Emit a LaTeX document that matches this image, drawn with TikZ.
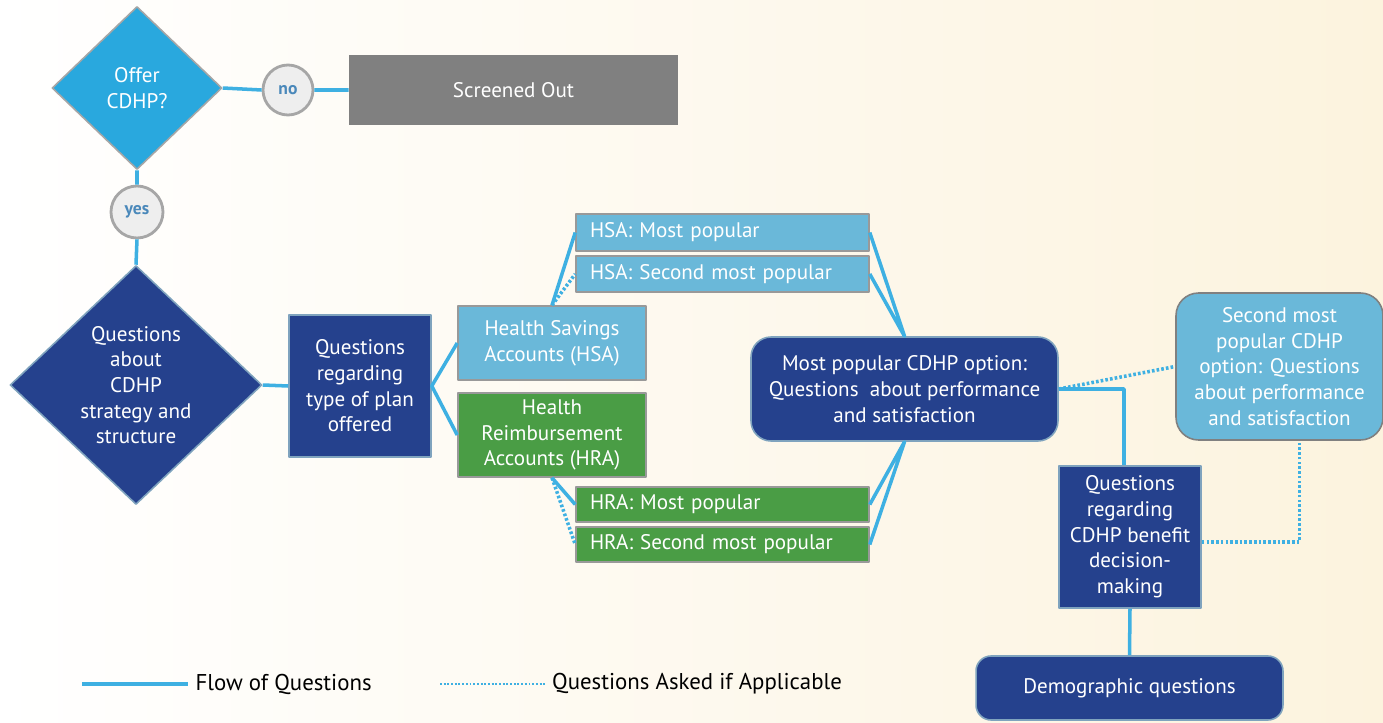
\documentclass[tikz,border=0pt]{standalone}
\usepackage{fontspec}
\setmainfont{PT Sans}
\usetikzlibrary{shapes.geometric}
\definecolor{lineblue}{RGB}{62,176,226}
\definecolor{offerblue}{RGB}{41,168,222}
\definecolor{navy}{RGB}{37,65,141}
\definecolor{skyblue}{RGB}{106,184,217}
\definecolor{leafgreen}{RGB}{74,157,69}
\definecolor{cream}{RGB}{252,243,222}
\definecolor{navyedge}{RGB}{127,163,190}
\definecolor{yesno}{RGB}{74,136,186}
\begin{document}
\begin{tikzpicture}[x=0.02cm,y=-0.02cm,line join=round,font=\fontsize{12}{14.6}\selectfont,
    flow/.style={draw=lineblue,line width=2pt},
    ifapp/.style={draw=lineblue,line width=2pt,dash pattern=on 1.5pt off 1.2pt},
    navybox/.style={draw=navyedge,line width=0.9pt,fill=navy,text=white,align=center,inner sep=2pt},
    skybox/.style={draw=gray!80,line width=0.9pt,fill=skyblue,text=white,align=center,inner sep=2pt},
    greenbox/.style={draw=gray!80,line width=0.9pt,fill=leafgreen,text=white,align=center,inner sep=2pt},
    pick/.style={line width=0.9pt,text=white,align=left,text width=5.3cm,inner xsep=0.28cm,inner ysep=0pt,minimum height=#1},
    answer/.style={circle,draw=gray!70,line width=1.6pt,fill=gray!13,text=yesno,font=\fontsize{10}{12}\selectfont\bfseries,inner sep=0pt}]
    % background
    \shade[left color=white,right color=cream] (0,0) rectangle (1383,723);
    \useasboundingbox (0,0) rectangle (1383,723);
    % screening
    \node[diamond,aspect=1,draw=gray!70,line width=0.9pt,fill=offerblue,text=white,align=center,inner sep=0pt,minimum width=3.4cm,minimum height=3.26cm] (offer) at (137,88) {Offer\\CDHP?};
    \node[answer,minimum size=1cm] (no) at (288,90) {no};
    \node[fill=gray,text=white,minimum width=6.58cm,minimum height=1.4cm] (screened) at (513.5,90) {Screened Out};
    \node[answer,minimum size=1.04cm] (yes) at (137,212) {yes};
    % strategy and type of plan
    \node[diamond,aspect=1,navybox,inner sep=0pt,minimum width=5.04cm,minimum height=4.78cm] (strategy) at (136,385) {Questions\\about\\CDHP\\strategy and\\structure};
    \node[navybox,minimum width=2.84cm,minimum height=2.84cm] (plantype) at (360,386) {Questions\\regarding\\type of plan\\offered};
    \node[skybox,minimum width=3.76cm,minimum height=1.48cm] (hsa) at (552,343) {Health Savings\\Accounts (HSA)};
    \node[greenbox,minimum width=3.76cm,minimum height=1.68cm] (hra) at (552,435) {Health\\Reimbursement\\Accounts (HRA)};
    % popularity
    \node[pick=0.74cm,draw=gray!80,fill=skyblue] (hsafirst) at (722.5,232.5) {HSA: Most popular};
    \node[pick=0.72cm,draw=gray!80,fill=skyblue] (hsasecond) at (722.5,274) {HSA: Second most popular};
    \node[pick=0.7cm,draw=gray!80,fill=leafgreen] (hrafirst) at (722.5,504.5) {HRA: Most popular};
    \node[pick=0.7cm,draw=gray!80,fill=leafgreen] (hrasecond) at (722.5,544.5) {HRA: Second most popular};
    \node[navybox,rounded corners=0.4cm,minimum width=6.14cm,minimum height=2.08cm] (mostpop) at (904.5,389) {Most popular CDHP option:\\Questions\ \ about performance\\and satisfaction};
    \node[skybox,draw=gray,rounded corners=0.45cm,minimum width=4.14cm,minimum height=2.94cm] (secondpop) at (1279.5,366.5) {Second most\\popular CDHP\\option: Questions\\about performance\\and satisfaction};
    \node[navybox,minimum width=2.84cm,minimum height=2.84cm] (decision) at (1130,537) {Questions\\regarding\\CDHP benefit\\decision-\\making};
    \node[navybox,rounded corners=0.3cm,minimum width=6.14cm,minimum height=1.28cm] (demog) at (1129.5,688) {Demographic questions};
    % connectors
    \draw[flow] (offer.east)--(no.west) (no.east)--(screened.west);
    \draw[flow] (offer.south)--(yes.north) (yes.south)--(strategy.north);
    \draw[flow] (strategy.east)--(plantype.west);
    \draw[flow] (hsa.west)--(plantype.east)--(hra.west);
    \draw[flow] (hsa.north)--(hsafirst.west);
    \draw[ifapp] (hsa.north)--(hsasecond.west);
    \draw[flow] (hra.south)--(hrafirst.west);
    \draw[ifapp] (hra.south)--(hrasecond.west);
    \draw[flow] (hsafirst.east)--(mostpop.north)--(hsasecond.east);
    \draw[flow] (hrafirst.east)--(mostpop.south)--(hrasecond.east);
    \draw[ifapp] (mostpop.east)--(secondpop.west);
    \draw[flow] (mostpop.east)-|([xshift=-0.12cm]decision.north);
    \draw[ifapp] ([yshift=-0.1cm]decision.east)-|([xshift=0.4cm]secondpop.south);
    \draw[flow] (decision.south)--(demog.north);
    % legend
    \coordinate (flowa) at (82,684);
    \coordinate (flowb) at (188,684);
    \coordinate (ifa) at (440,684);
    \coordinate (ifb) at (545,684);
    \draw[flow] (flowa)--(flowb)node[right,text=black,font=\fontsize{13}{15}\selectfont] (flowtxt) {Flow of Questions};
    \draw[ifapp,line width=1.5pt,dash pattern=on 1.1pt off 1pt] (ifa)--(ifb)node[right,text=black,font=\fontsize{13}{15}\selectfont] (iftxt) {Questions Asked if Applicable};
\end{tikzpicture}
\end{document}
